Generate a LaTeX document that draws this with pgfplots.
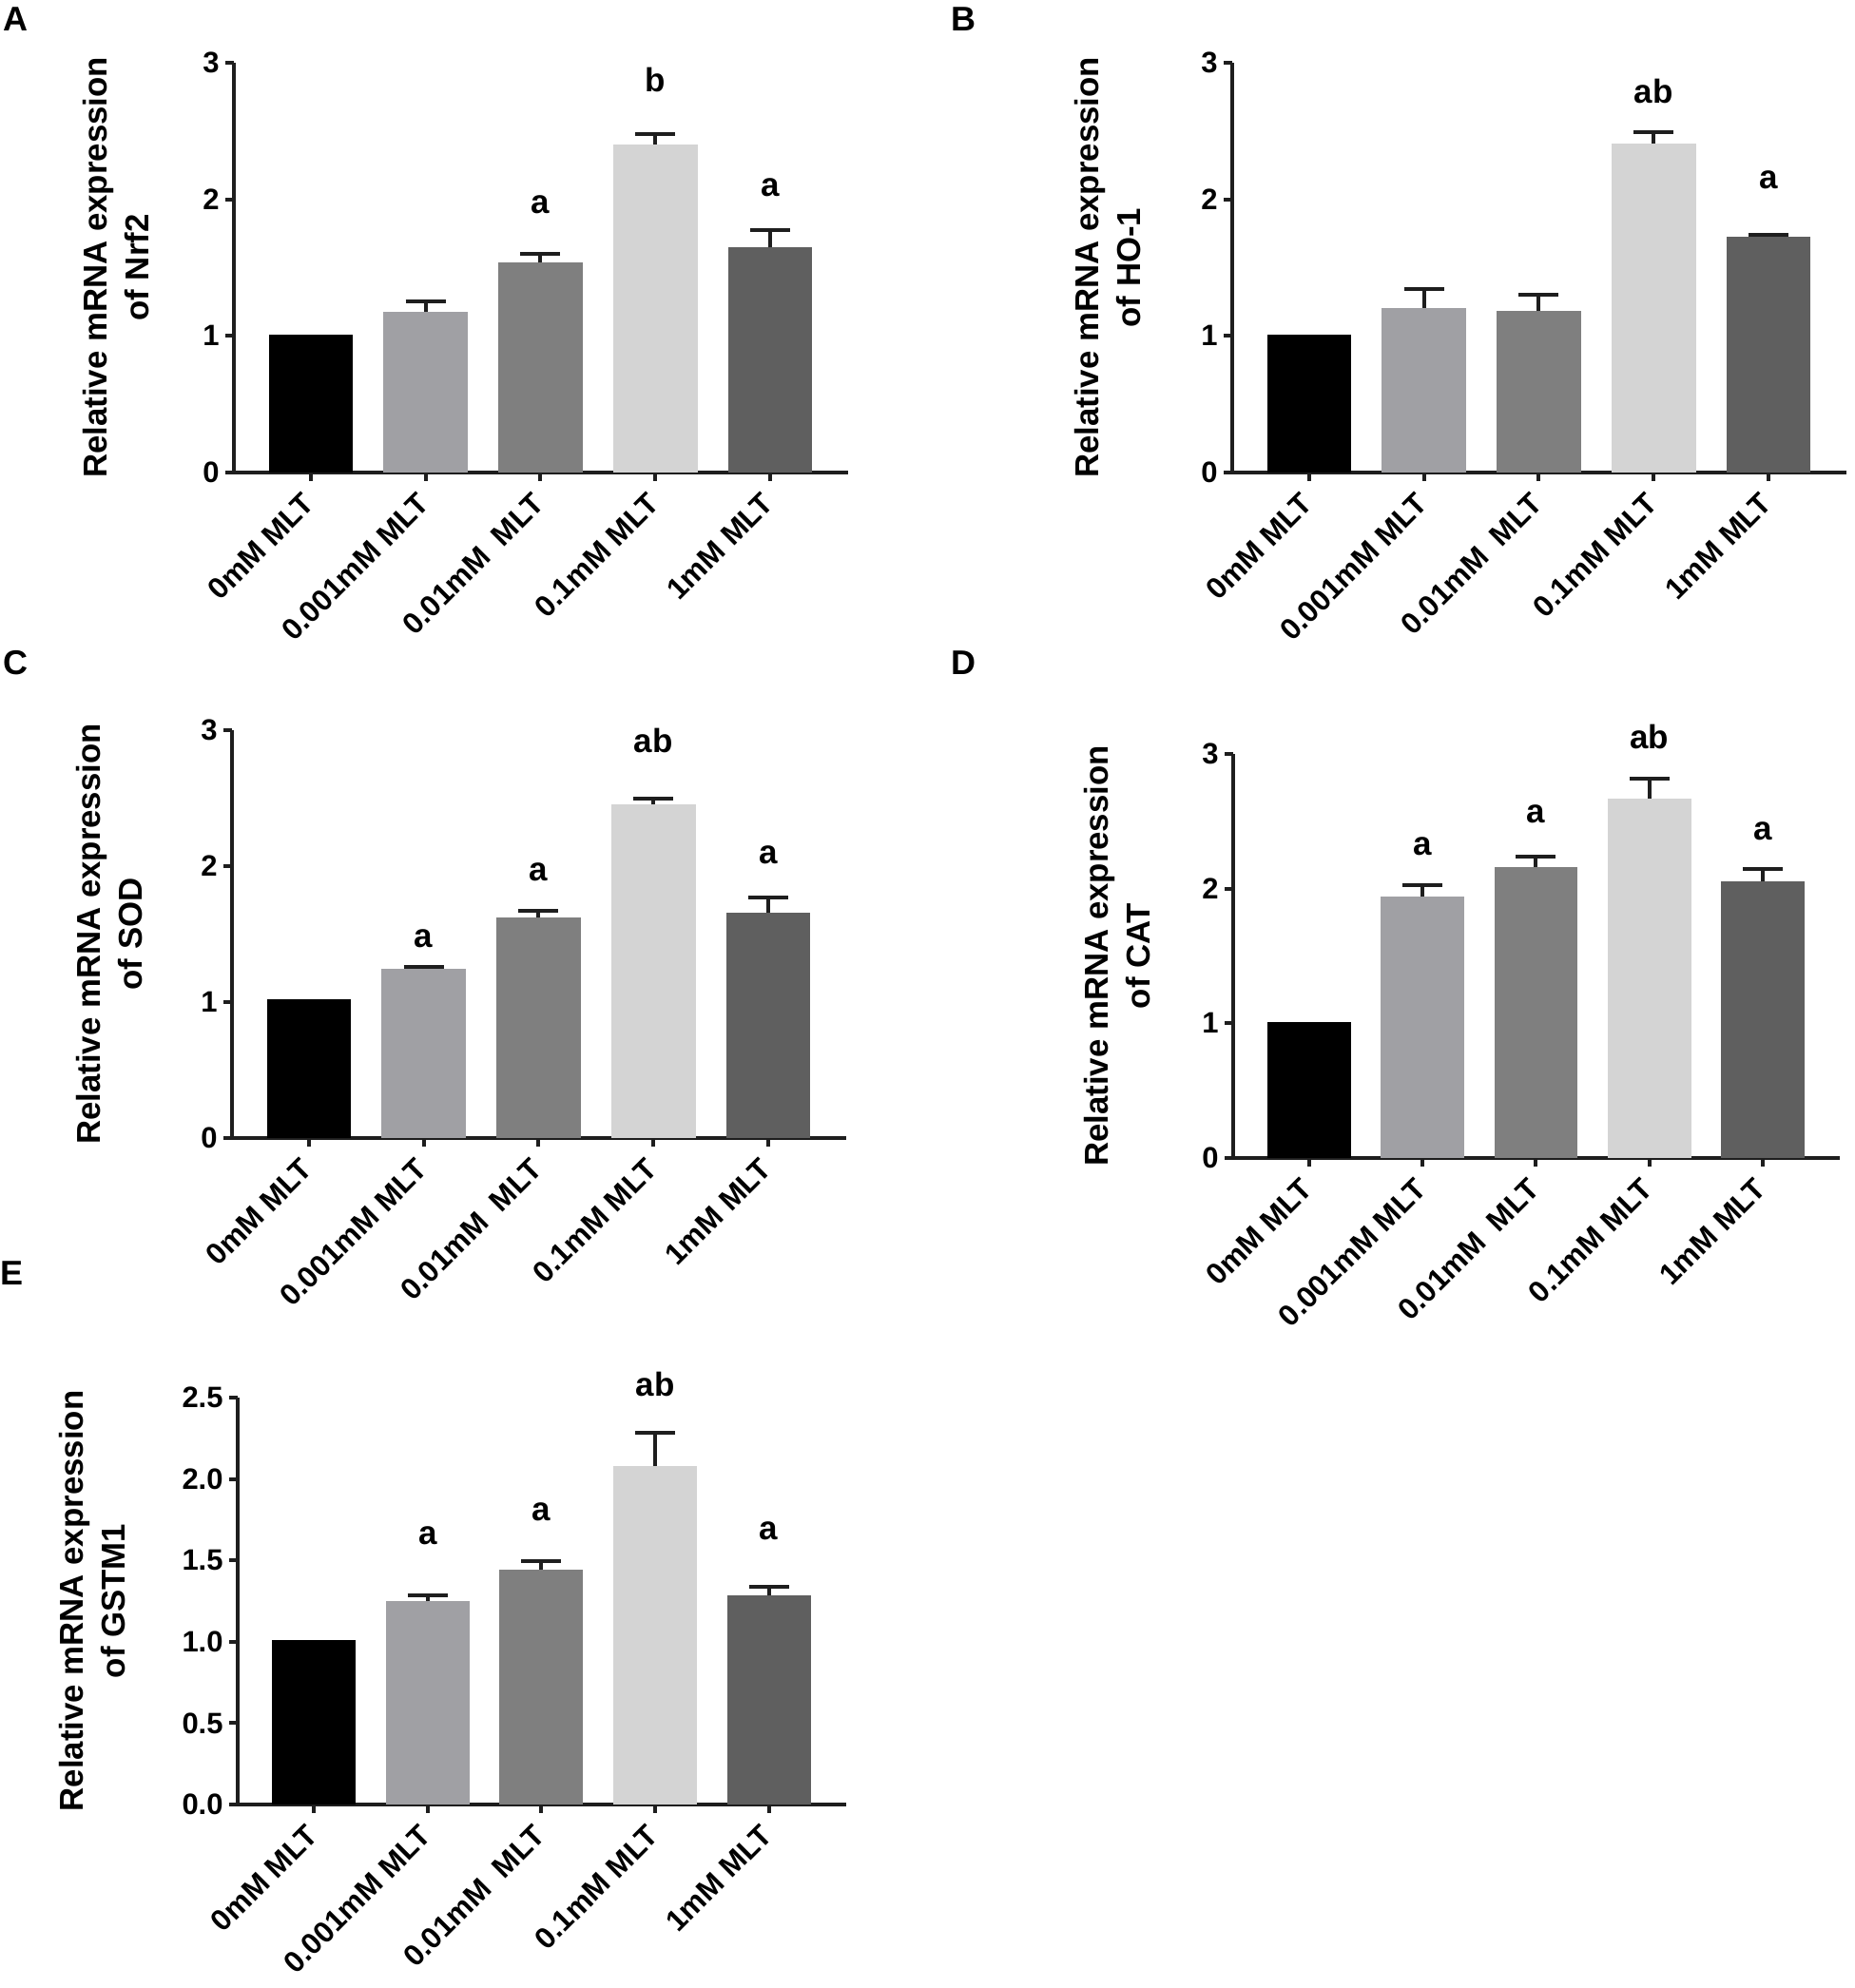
\documentclass[border=0pt]{standalone}
\usepackage{pgfplots}
\pgfplotsset{compat=1.18}
\usepackage{fontspec}
\setmainfont{Liberation Sans}
\definecolor{cA}{HTML}{000000}
\definecolor{cB}{HTML}{A0A0A4}
\definecolor{cC}{HTML}{7F7F7F}
\definecolor{cD}{HTML}{D4D4D4}
\definecolor{cE}{HTML}{5F5F5F}
\definecolor{axc}{HTML}{1E1E1E}
\tikzset{
  sig/.style={font=\bfseries\fontsize{17.5}{19}\selectfont, inner sep=0pt},
  plab/.style={anchor=north west, inner sep=0pt, font=\bfseries\fontsize{18}{20}\selectfont},
}
\pgfplotsset{
  panel/.style={
    scale only axis, clip=false, anchor=south west,
    xmin=-0.67, xmax=4.68, ymin=0,
    axis x line*=bottom, axis y line*=left,
    axis line style={line width=2pt, axc},
    xtick={0,1,2,3,4},
    xticklabels={0mM MLT,0.001mM MLT,0.01mM~~MLT,0.1mM MLT,1mM MLT},
    tick align=outside, major tick length=4.5pt,
    major tick style={line width=2pt, axc},
    ybar, bar width=0.735,
    /pgf/number format/assume math mode=true,
    xticklabel style={xshift=-5pt, yshift=-5pt, rotate=45, anchor=north east, inner sep=0pt, font=\bfseries\fontsize{15.7}{18}\selectfont},
    yticklabel style={font=\bfseries\fontsize{15.5}{18}\selectfont, inner sep=3pt},
    ylabel style={at={(axis description cs:#1,0.5)}, anchor=center, align=center, font=\bfseries\fontsize{17.4}{22}\selectfont},
  },
  mybar/.style={fill=#1, draw=none, bar shift=0pt,
    error bars/.cd, y dir=plus, y explicit,
    error bar style={line width=2pt, axc},
    error mark options={rotate=90, line width=2pt, mark size=10.5pt, axc}},
  nobar/.style={fill=#1, draw=none, bar shift=0pt},
}
\begin{document}
\begin{tikzpicture}
\path (0pt,0pt) rectangle (975pt,1045.5pt);
\node[plab] at (1.5pt,1042pt) {A};
\node[plab] at (500pt,1042pt) {B};
\node[plab] at (1.5pt,703.5pt) {C};
\node[plab] at (500pt,703.5pt) {D};
\node[plab] at (0pt,382.5pt) {E};

% A
\begin{axis}[panel=-0.192, at={(123pt,797pt)}, width=323pt, height=215.5pt,
  ymax=3, ytick={0,1,2,3}, ylabel={Relative mRNA expression\\of Nrf2}]
\addplot[nobar=cA] coordinates {(0,1.01)};
\addplot[mybar=cB] coordinates {(1,1.175) +- (0,0.078)};
\addplot[mybar=cC] coordinates {(2,1.536) +- (0,0.068)};
\addplot[mybar=cD] coordinates {(3,2.40) +- (0,0.078)};
\addplot[mybar=cE] coordinates {(4,1.648) +- (0,0.124)};
\node[sig] at (axis cs:2,1.958) {a};
\node[sig] at (axis cs:3,2.875) {b};
\node[sig] at (axis cs:4,2.083) {a};
\end{axis}

% B
\begin{axis}[panel=-0.202, at={(648pt,797pt)}, width=323pt, height=215.5pt,
  ymax=3, ytick={0,1,2,3}, ylabel={Relative mRNA expression\\of HO-1}]
\addplot[nobar=cA] coordinates {(0,1.01)};
\addplot[mybar=cB] coordinates {(1,1.206) +- (0,0.137)};
\addplot[mybar=cC] coordinates {(2,1.181) +- (0,0.118)};
\addplot[mybar=cD] coordinates {(3,2.409) +- (0,0.084)};
\addplot[mybar=cE] coordinates {(4,1.725) +- (0,0.016)};
\node[sig] at (axis cs:3,2.788) {ab};
\node[sig] at (axis cs:4,2.145) {a};
\end{axis}

% C
\begin{axis}[panel=-0.199, at={(122pt,447pt)}, width=323pt, height=214.5pt,
  ymax=3, ytick={0,1,2,3}, ylabel={Relative mRNA expression\\of SOD}]
\addplot[nobar=cA] coordinates {(0,1.02)};
\addplot[mybar=cB] coordinates {(1,1.243) +- (0,0.016)};
\addplot[mybar=cC] coordinates {(2,1.619) +- (0,0.053)};
\addplot[mybar=cD] coordinates {(3,2.451) +- (0,0.047)};
\addplot[mybar=cE] coordinates {(4,1.657) +- (0,0.110)};
\node[sig] at (axis cs:1,1.468) {a};
\node[sig] at (axis cs:2,1.955) {a};
\node[sig] at (axis cs:3,2.921) {ab};
\node[sig] at (axis cs:4,2.080) {a};
\end{axis}

% D
\begin{axis}[panel=-0.191, at={(648.5pt,436.5pt)}, width=319pt, height=212.5pt,
  ymax=3, ytick={0,1,2,3}, ylabel={Relative mRNA expression\\of CAT}]
\addplot[nobar=cA] coordinates {(0,1.01)};
\addplot[mybar=cB] coordinates {(1,1.939) +- (0,0.085)};
\addplot[mybar=cC] coordinates {(2,2.163) +- (0,0.076)};
\addplot[mybar=cD] coordinates {(3,2.667) +- (0,0.152)};
\addplot[mybar=cE] coordinates {(4,2.056) +- (0,0.088)};
\node[sig] at (axis cs:1,2.312) {a};
\node[sig] at (axis cs:2,2.556) {a};
\node[sig] at (axis cs:3,3.13) {ab};
\node[sig] at (axis cs:4,2.423) {a};
\end{axis}

% E
\begin{axis}[panel=-0.239, at={(125pt,96.5pt)}, width=320pt, height=214pt,
  ymax=2.5, ytick={0,0.5,1,1.5,2,2.5},
  yticklabel style={/pgf/number format/.cd, fixed, fixed zerofill, precision=1},
  ylabel={Relative mRNA expression\\of GSTM1}]
\addplot[nobar=cA] coordinates {(0,1.01)};
\addplot[mybar=cB] coordinates {(1,1.249) +- (0,0.037)};
\addplot[mybar=cC] coordinates {(2,1.445) +- (0,0.052)};
\addplot[mybar=cD] coordinates {(3,2.079) +- (0,0.204)};
\addplot[mybar=cE] coordinates {(4,1.283) +- (0,0.052)};
\node[sig] at (axis cs:1,1.654) {a};
\node[sig] at (axis cs:2,1.798) {a};
\node[sig] at (axis cs:3,2.584) {ab};
\node[sig] at (axis cs:4,1.681) {a};
\end{axis}
\end{tikzpicture}
\end{document}
